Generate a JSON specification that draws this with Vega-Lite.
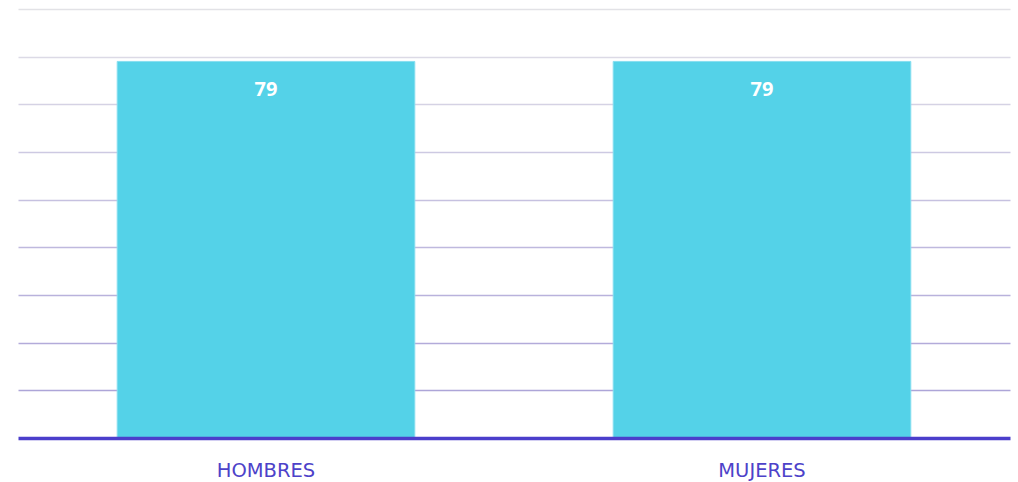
{
  "$schema": "https://vega.github.io/schema/vega-lite/v6.json",
  "width": 992,
  "height": 429,
  "autosize": {"type": "none"},
  "padding": {"left": 18, "top": 9, "right": 8, "bottom": 44},
  "background": "white",
  "config": {"view": {"stroke": null}},
  "data": {"values": [
    {"sexo": "HOMBRES", "valor": 79},
    {"sexo": "MUJERES", "valor": 79}
  ]},
  "encoding": {
    "x": {
      "field": "sexo", "type": "nominal", "sort": null,
      "scale": {"paddingInner": 0.4, "paddingOuter": 0.2},
      "axis": {
        "title": null, "labelAngle": 0, "ticks": false,
        "domainColor": "#4b3ecb", "domainWidth": 3.5,
        "labelColor": "#4d42c9", "labelFontSize": 19.5, "labelFont": "DejaVu Sans",
        "labelFontWeight": "normal",
        "labelPadding": 23, "zindex": 2
      }
    },
    "y": {
      "field": "valor", "type": "quantitative",
      "scale": {"domain": [0, 90], "nice": false},
      "axis": {
        "title": null, "labels": false, "ticks": false, "domain": false,
        "values": [10, 20, 30, 40, 50, 60, 70, 80, 90],
        "gridWidth": 1.3,
        "gridColor": {
          "condition": [
            {"test": "datum.value >= 90", "value": "#e2e2e6"},
            {"test": "datum.value >= 80", "value": "#dcdae6"},
            {"test": "datum.value >= 70", "value": "#d5d2e4"},
            {"test": "datum.value >= 60", "value": "#cdc9e2"},
            {"test": "datum.value >= 50", "value": "#c6c1e0"},
            {"test": "datum.value >= 40", "value": "#bfb9de"},
            {"test": "datum.value >= 30", "value": "#b9b2dc"},
            {"test": "datum.value >= 20", "value": "#b3abda"}
          ],
          "value": "#ada5d8"
        }
      }
    }
  },
  "layer": [
    {"mark": {"type": "bar", "fill": "#54d2e8", "stroke": "#86def0", "strokeWidth": 1}},
    {"mark": {"type": "text", "color": "white", "fontSize": 20, "fontWeight": "bold", "font": "Open Sans", "dy": 29, "baseline": "middle"},
     "encoding": {"text": {"field": "valor", "type": "quantitative"}}}
  ]
}
